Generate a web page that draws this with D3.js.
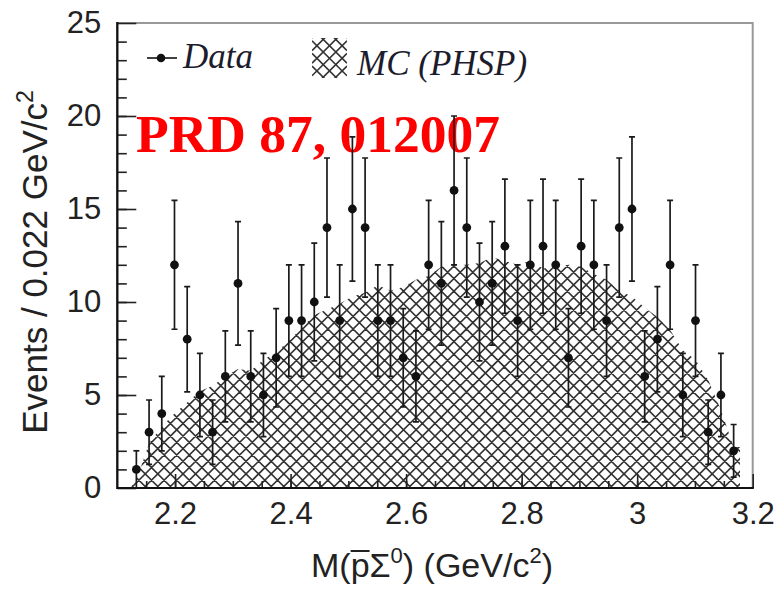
<!DOCTYPE html>
<html>
<head>
<meta charset="utf-8">
<script src="https://cdn.jsdelivr.net/npm/d3@7"></script>
<style>
  body { margin: 0; background: #fff; }
  svg { display: block; }
</style>
</head>
<body>
<div id="container"></div>
<script>
/* DATA */
const binCenters = [
  2.133, 2.155, 2.177, 2.199, 2.221, 2.243, 2.265, 2.287, 2.309, 2.331, 2.353, 2.375,
  2.397, 2.419, 2.441, 2.463, 2.485, 2.507, 2.529, 2.551, 2.573, 2.595, 2.617, 2.639,
  2.661, 2.683, 2.705, 2.727, 2.749, 2.771, 2.793, 2.815, 2.837, 2.859, 2.881, 2.903,
  2.925, 2.947, 2.969, 2.991, 3.013, 3.035, 3.057, 3.079, 3.101, 3.123, 3.145, 3.167
];
const dataCounts = [
  1, 3, 4, 12, 8, 5, 3, 6, 11, 6, 5, 7,
  9, 9, 10, 14, 9, 15, 14, 9, 9, 7, 6, 12,
  11, 16, 14, 10, 11, 13, 9, 12, 13, 12, 7, 13,
  12, 9, 14, 15, 6, 8, 12, 5, 9, 3, 5, 2
];
const mcCounts = [
  0.4, 2.4, 3.3, 4.0, 4.6, 5.2, 5.5, 6.0, 6.4, 6.3, 6.9, 7.3,
  7.9, 8.6, 9.3, 9.6, 9.9, 10.3, 10.5, 10.9, 10.6, 10.8, 11.2, 11.4,
  11.9, 12.0, 12.0, 12.1, 12.4, 12.2, 12.0, 12.2, 11.8, 11.9, 12.0, 11.9,
  11.5, 11.2, 10.6, 10.3, 9.7, 9.2, 8.5, 7.4, 6.9, 5.8, 4.2, 2.2
];
const mcRange = [2.122, 3.178];
const xTickLabels = [2.2, 2.4, 2.6, 2.8, 3, 3.2];
const yTickLabels = [0, 5, 10, 15, 20, 25];

/* CONSTANTS AND GLOBALS */
const width = 780,
  height = 590,
  margin = { top: 23, right: 27.3, bottom: 102, left: 117.3 };

const xScale = d3.scaleLinear()
  .domain([2.1, 3.2])
  .range([margin.left, width - margin.right]);

const yScale = d3.scaleLinear()
  .domain([0, 25])
  .range([height - margin.bottom, margin.top]);

const x0 = margin.left, x1 = width - margin.right;
const y0 = margin.top, y1 = height - margin.bottom;

const svg = d3.select("#container")
  .append("svg")
  .attr("width", width)
  .attr("height", height);

// cross hatch lines covering a box, to be clipped
function hatchPath(ax, ay, bx, by, s) {
  let p = "";
  for (let c = ay - bx; c <= by - ax; c += s) {
    p += `M${ax},${ax + c}L${bx},${bx + c}`;
  }
  for (let c = ay + ax; c <= by + bx; c += s) {
    p += `M${ax},${c - ax}L${bx},${c - bx}`;
  }
  return p;
}

// MC AREA (hatched)
const mcPoints = [{ x: mcRange[0], y: 0 }]
  .concat(binCenters.map((c, i) => ({ x: c, y: mcCounts[i] })))
  .concat([{ x: mcRange[1], y: mcCounts[mcCounts.length - 1] }]);

const areaGenerator = d3.area()
  .x(d => xScale(d.x))
  .y0(yScale(0))
  .y1(d => yScale(d.y));

const defs = svg.append("defs");
defs.append("clipPath").attr("id", "mcClip")
  .append("path")
  .attr("d", areaGenerator(mcPoints));

defs.append("clipPath").attr("id", "legClip")
  .append("rect")
  .attr("x", 312).attr("y", 38).attr("width", 35).attr("height", 40);

svg.append("g")
  .attr("clip-path", "url(#mcClip)")
  .append("path")
  .attr("d", hatchPath(x0, y0, x1, y1, 12.6))
  .attr("fill", "none")
  .attr("stroke", "#333")
  .attr("stroke-width", 1.6);

// FRAME
svg.append("rect")
  .attr("x", x0).attr("y", y0)
  .attr("width", x1 - x0).attr("height", y1 - y0)
  .attr("fill", "none")
  .attr("stroke", "#999")
  .attr("stroke-width", 2);

// AXES
const fontSans = "'Liberation Sans', Arial, sans-serif";

const xMinor = d3.range(43, 64).map(i => i * 0.05);
const yMinor = d3.range(1, 25);

svg.append("g")
  .attr("transform", `translate(0, ${y1})`)
  .call(d3.axisBottom(xScale).tickValues(xMinor).tickSize(-7).tickFormat(""));

const xAxisGroup = svg.append("g")
  .attr("class", "xAxis")
  .attr("transform", `translate(0, ${y1})`)
  .call(d3.axisBottom(xScale)
    .tickValues(xTickLabels)
    .tickSize(-14)
    .tickPadding(14)
    .tickFormat(d3.format("~g")));

svg.append("g")
  .attr("transform", `translate(${x0}, 0)`)
  .call(d3.axisLeft(yScale).tickValues(yMinor).tickSize(-9.5).tickFormat(""));

const yAxisGroup = svg.append("g")
  .attr("class", "yAxis")
  .attr("transform", `translate(${x0}, 0)`)
  .call(d3.axisLeft(yScale)
    .tickValues(yTickLabels)
    .tickSize(-19)
    .tickPadding(16));

svg.selectAll(".domain").remove();
svg.selectAll(".tick line").attr("stroke", "#222").attr("stroke-width", 1.6);
svg.selectAll(".xAxis text, .yAxis text")
  .attr("fill", "#222")
  .style("font-family", fontSans)
  .style("font-size", "31px");

// axis lines (left, bottom)
svg.append("path")
  .attr("d", `M${x0},${y0 - 1}V${y1}H${x1 + 1}`)
  .attr("fill", "none")
  .attr("stroke", "#111")
  .attr("stroke-width", 2.2);

// AXIS TITLES
const yTitle = svg.append("text")
  .attr("transform", "rotate(-90)")
  .attr("x", -262)
  .attr("y", 47)
  .attr("text-anchor", "middle")
  .attr("fill", "#222")
  .style("font-family", fontSans)
  .style("font-size", "35px");
yTitle.append("tspan").text("Events / 0.022 GeV/c");
yTitle.append("tspan").attr("dy", -14).style("font-size", "23px").text("2");

const xTitle = svg.append("text")
  .attr("x", 432)
  .attr("y", 577)
  .attr("text-anchor", "middle")
  .attr("fill", "#222")
  .style("font-family", fontSans)
  .style("font-size", "34px");
xTitle.append("tspan").text("M(p\u03A3");
xTitle.append("tspan").attr("dy", -14).style("font-size", "22px").text("0");
xTitle.append("tspan").attr("dy", 14).text(") (GeV/c");
xTitle.append("tspan").attr("dy", -14).style("font-size", "22px").text("2");
xTitle.append("tspan").attr("dy", 14).text(")");

// overline on the antiproton "p"
const pBox = xTitle.node().getExtentOfChar(2);
svg.append("line")
  .attr("x1", pBox.x).attr("x2", pBox.x + pBox.width)
  .attr("y1", 577 - 26).attr("y2", 577 - 26)
  .attr("stroke", "#222").attr("stroke-width", 2);

// RED LABEL
svg.append("text")
  .attr("x", 136)
  .attr("y", 152)
  .attr("fill", "#ff0000")
  .style("font-family", "'Liberation Serif', 'Times New Roman', serif")
  .style("font-weight", "bold")
  .style("font-size", "53.5px")
  .text("PRD 87, 012007");

// DATA POINTS WITH ERROR BARS
const pts = binCenters.map((c, i) => ({ x: c, n: dataCounts[i] }));
const bars = svg.append("g").attr("stroke", "#1a1a1a").attr("stroke-width", 1.7);

bars.selectAll("line.err")
  .data(pts)
  .join("line")
  .attr("class", "err")
  .attr("x1", d => xScale(d.x)).attr("x2", d => xScale(d.x))
  .attr("y1", d => yScale(Math.max(0, d.n - Math.sqrt(d.n))))
  .attr("y2", d => yScale(d.n + Math.sqrt(d.n)));

bars.selectAll("path.cap")
  .data(pts)
  .join("path")
  .attr("class", "cap")
  .attr("fill", "none")
  .attr("d", d => {
    const cx = xScale(d.x);
    const top = yScale(d.n + Math.sqrt(d.n));
    const lo = d.n - Math.sqrt(d.n);
    let p = `M${cx - 3},${top}H${cx + 3}`;
    if (lo > 0) p += `M${cx - 3},${yScale(lo)}H${cx + 3}`;
    return p;
  });

svg.append("g")
  .selectAll("circle")
  .data(pts)
  .join("circle")
  .attr("cx", d => xScale(d.x))
  .attr("cy", d => yScale(d.n))
  .attr("r", 4.4)
  .attr("fill", "#111");

// LEGEND
const fontSerif = "'Liberation Serif', 'Times New Roman', serif";
svg.append("line")
  .attr("x1", 147).attr("x2", 177).attr("y1", 58).attr("y2", 58)
  .attr("stroke", "#111").attr("stroke-width", 1.6);
svg.append("circle").attr("cx", 161).attr("cy", 58).attr("r", 4.3).attr("fill", "#111");
svg.append("text")
  .attr("x", 183).attr("y", 68)
  .attr("fill", "#1c1c2c")
  .style("font-family", fontSerif)
  .style("font-style", "italic")
  .style("font-size", "35px")
  .text("Data");

svg.append("g")
  .attr("clip-path", "url(#legClip)")
  .append("path")
  .attr("d", hatchPath(312, 38, 347, 78, 12.6))
  .attr("fill", "none")
  .attr("stroke", "#333")
  .attr("stroke-width", 1.6);
svg.append("text")
  .attr("x", 357).attr("y", 75)
  .attr("fill", "#1c1c2c")
  .style("font-family", fontSerif)
  .style("font-style", "italic")
  .style("font-size", "35px")
  .text("MC (PHSP)");
</script>
</body>
</html>
